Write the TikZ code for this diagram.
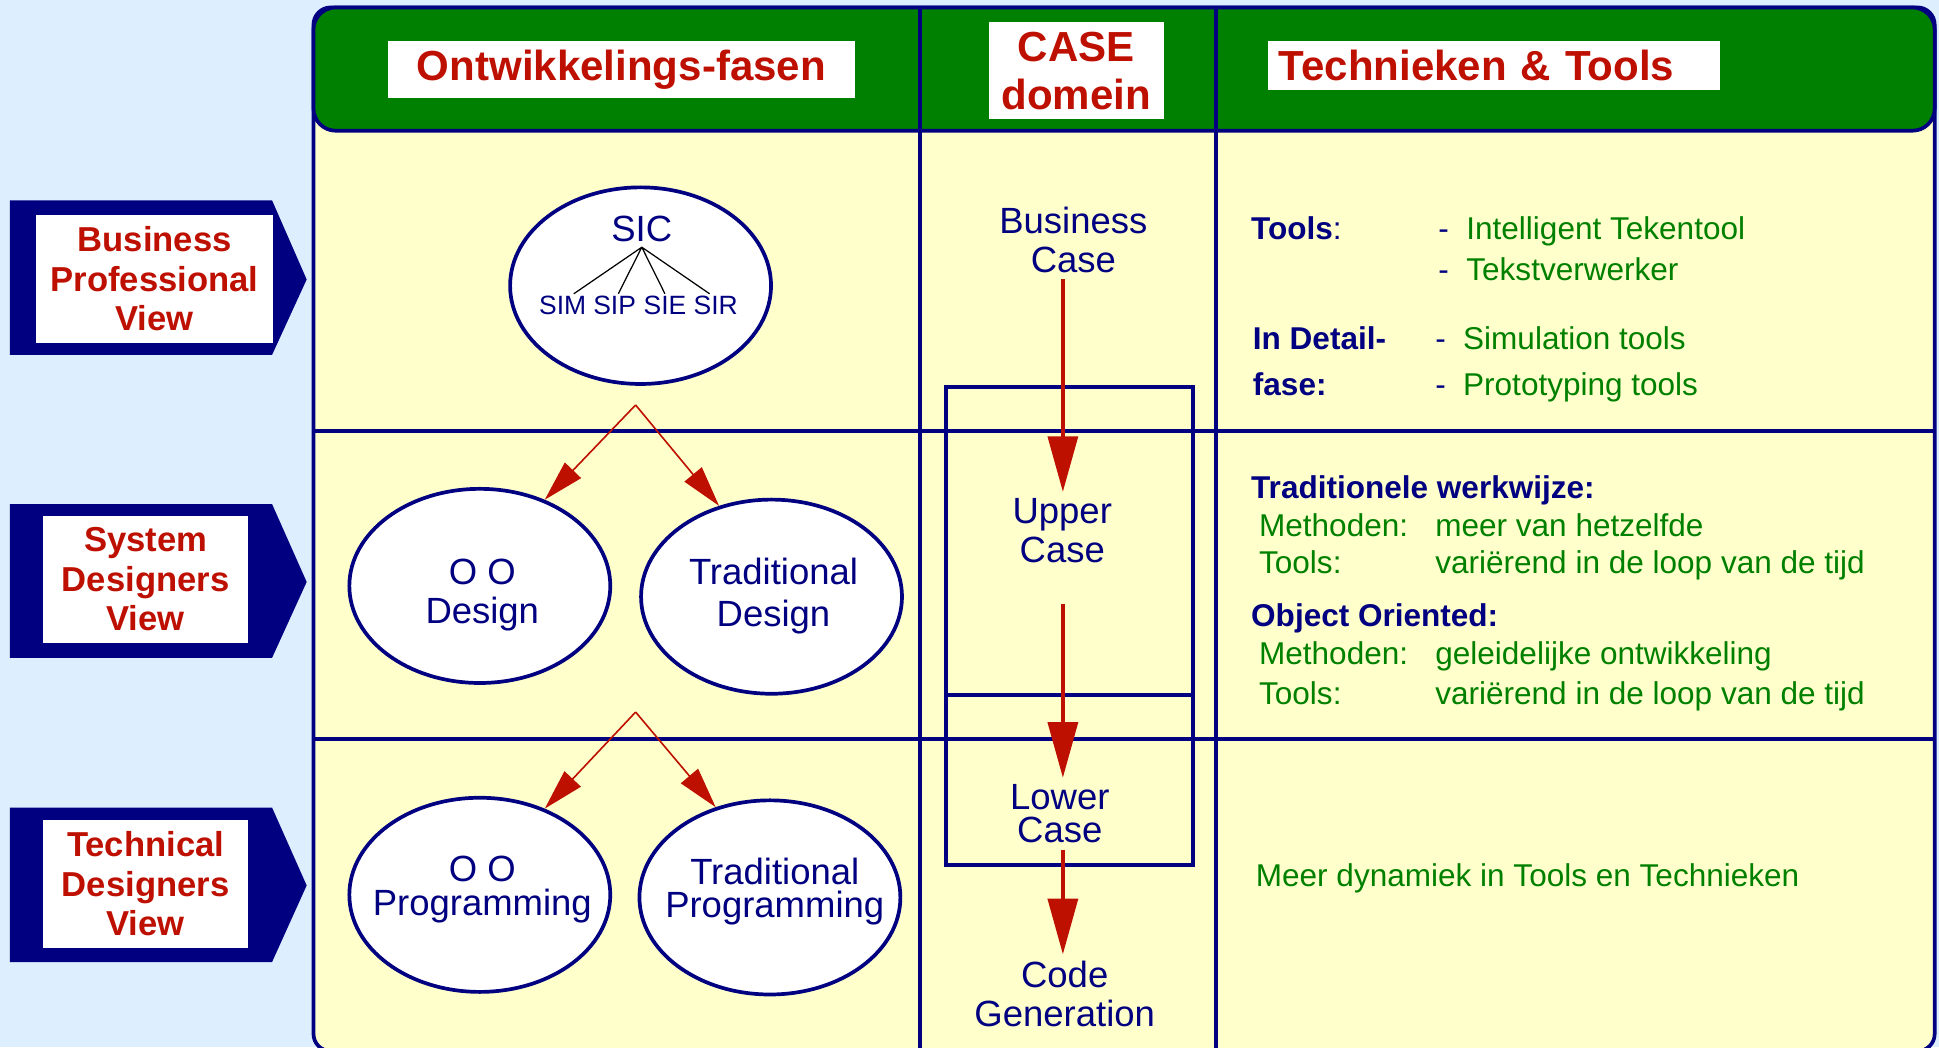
\documentclass[tikz,border=0pt]{standalone}
\usepackage{fontspec}
\setmainfont{Liberation Sans}
\usetikzlibrary{shapes.geometric,arrows.meta}
\definecolor{navy}{RGB}{0,0,128}
\definecolor{hdrgreen}{RGB}{0,128,0}
\definecolor{txtred}{RGB}{190,16,0}
\definecolor{paleyellow}{RGB}{255,255,204}
\definecolor{paleblue}{RGB}{221,238,255}
\newcommand{\fsz}[2]{\fontsize{#1}{#2}\selectfont}
\begin{document}
\begin{tikzpicture}[x=1pt,y=-1pt,
    hdr/.style={fill=white,inner sep=0pt,text=txtred,font=\fsz{34}{39}\bfseries,align=center},
    viewbox/.style={fill=white,inner sep=0pt,text=txtred,font=\fsz{28}{32}\bfseries,align=center},
    phasenode/.style={ellipse,draw=navy,line width=3pt,fill=white,inner sep=0pt,minimum width=211pt,minimum height=157pt},
    elltxt/.style={text=navy,align=center,inner sep=0pt},
    subsys/.style={text=navy,anchor=base,inner sep=2pt,font=\fsz{21.4}{24}},
    casetxt/.style={text=navy,align=center,inner sep=5pt},
    toollbl/.style={anchor=base west,inner sep=0pt,text=navy,font=\fsz{25.5}{30}\bfseries},
    tooltxt/.style={anchor=base west,inner sep=0pt,text=hdrgreen,font=\fsz{25.5}{30}},
    flowarrow/.style={draw=txtred,line width=3.5pt,-{Triangle[length=45pt,width=24pt]}},
    forkarrow/.style={draw=txtred,line width=1.3pt,-{Triangle[length=33pt,width=18pt]}}]
  % background and frame
  \fill[paleblue] (0,0) rectangle (1568,847);
  \useasboundingbox (0,0) rectangle (1568,847);
  \filldraw[fill=paleyellow,draw=navy,line width=3pt,rounded corners=14pt] (253.5,6) rectangle (1564.5,850);
  \filldraw[fill=hdrgreen,draw=navy,line width=3pt,rounded corners=18pt] (253.5,6) rectangle (1564.5,105.7);
  \draw[navy,line width=3pt] (744,6) -- (744,850) (983.5,6) -- (983.5,850)
    (253.5,348.3) -- (1564.5,348.3) (253.5,597.7) -- (1564.5,597.7);
  \node[hdr,minimum width=377pt,minimum height=46pt] (ontw) at (502.5,56) {Ontwikkelings-fasen};
  \node[hdr,minimum width=141.6pt,minimum height=78.5pt] (casehdr) at (870.2,57.3) {CASE\\domein};
  \node[hdr,text width=347.5pt,align=left,inner xsep=9pt,minimum height=39.8pt] (techhdr) at (1207.75,52.9) {Technieken \& Tools};

  % views
  \fill[navy] (8,162) -- (220,162) -- (248,226) -- (220,287) -- (8,287) -- cycle;
  \node[viewbox,minimum width=192pt,minimum height=103pt] (bpv) at (125,225.5) {Business\\Professional\\View};
  \fill[navy] (8,407.6) -- (220,407.6) -- (248,470.6) -- (220,532) -- (8,532) -- cycle;
  \node[viewbox,minimum width=165.5pt,minimum height=103pt] (sdv) at (117.75,468.5) {System\\Designers\\View};
  \fill[navy] (8,653) -- (220,653) -- (248,716) -- (220,778) -- (8,778) -- cycle;
  \node[viewbox,minimum width=165.5pt,minimum height=103.6pt] (tdv) at (117.75,714.8) {Technical\\Designers\\View};

  % phases
  \node[phasenode,minimum height=159pt] (sicell) at (518,231) {};
  \node[text=navy,font=\fsz{29.5}{32},inner sep=4pt,anchor=base] (sic) at (519,195.4) {SIC};
  \node[subsys] (sim) at (455,254.7) {SIM};
  \node[subsys] (sip) at (497,254.7) {SIP};
  \node[subsys] (sie) at (537.7,254.7) {SIE};
  \node[subsys] (sir) at (578.8,254.7) {SIR};
  \draw[black,line width=1pt] (sic.south) -- ([xshift=9pt]sim.north)
    (sic.south) -- ([xshift=3pt]sip.north)
    (sic.south) -- (sie.north)
    (sic.south) -- ([xshift=-5pt]sir.north);
  \node[phasenode] (oodes) at (388,473.8) {};
  \node[elltxt,font=\fsz{29.5}{31.6}] (oodesT) at (390,481.2) {O O\\Design};
  \node[phasenode] (trdes) at (623.9,482.5) {};
  \node[elltxt,font=\fsz{29.5}{34}] (trdesT) at (625.5,482.3) {Traditional\\Design};
  \node[phasenode] (ooprog) at (388,723.6) {};
  \node[elltxt,font=\fsz{29.5}{27.7}] (ooprogT) at (390,719.2) {O O\\Programming};
  \node[phasenode] (trprog) at (622.6,725.7) {};
  \node[elltxt,font=\fsz{29.5}{27.4}] (trprogT) at (626.5,721) {Traditional\\Programming};
  \coordinate (fork1) at (514,327.5);
  \draw[forkarrow] (fork1) -- (oodes.53);
  \draw[forkarrow] (fork1) -- (trdes.120);
  \coordinate (fork2) at (514,575.8);
  \draw[forkarrow] (fork2) -- (ooprog.53);
  \draw[forkarrow] (fork2) -- (trprog.121);

  % CASE domein
  \coordinate (axis) at (859.5,0);
  \draw[navy,line width=3pt] (765,313) rectangle (964.5,562) (765,562) rectangle (964.5,699.5);
  \node[casetxt,font=\fsz{29.5}{31.8}] (bcase) at (868,193.9) {Business\\Case};
  \node[casetxt,font=\fsz{29.5}{31.4}] (ucase) at (859,429) {Upper\\Case};
  \node[casetxt,font=\fsz{29.5}{27}] (lcase) at (857,658) {Lower\\Case};
  \node[casetxt,font=\fsz{29.5}{31.4}] (cgen) at (861,803.5) {Code\\Generation};
  \draw[flowarrow] (bcase.south -| axis) -- (ucase.north -| axis);
  \draw[flowarrow,shorten <=28pt] (ucase.south -| axis) -- (lcase.north -| axis);
  \draw[flowarrow] (lcase.south -| axis) -- (cgen.north -| axis);

  % technieken & tools
  \node[toollbl] (tools1) at (1011.6,193.5) {Tools\textmd{:}};
  \node[tooltxt,text=navy] (dash1) at (1163,193.5) {-};
  \node[tooltxt] (teken) at (1185.6,193.5) {Intelligent Tekentool};
  \node[tooltxt,text=navy] (dash2) at (1163,227) {-};
  \node[tooltxt] (tekst) at (1185.6,227) {Tekstverwerker};
  \node[toollbl] (detail1) at (1013,282.5) {In Detail-};
  \node[toollbl] (detail2) at (1013,320) {fase:};
  \node[tooltxt,text=navy] (dash3) at (1160.6,282.5) {-};
  \node[tooltxt] (simul) at (1183,282.5) {Simulation tools};
  \node[tooltxt,text=navy] (dash4) at (1160.6,320) {-};
  \node[tooltxt] (proto) at (1183,320) {Prototyping tools};
  \node[toollbl] (trad) at (1011.6,403) {Traditionele werkwijze:};
  \node[tooltxt] (meth1) at (1018,433.5) {Methoden:};
  \node[tooltxt] (meth1T) at (1160.5,433.5) {meer van hetzelfde};
  \node[tooltxt] (tools2) at (1018,464) {Tools:};
  \node[tooltxt] (tools2T) at (1160.5,464) {variërend in de loop van de tijd};
  \node[toollbl] (objor) at (1011.6,507) {Object Oriented:};
  \node[tooltxt] (meth2) at (1018,537.6) {Methoden:};
  \node[tooltxt] (meth2T) at (1160.5,537.6) {geleidelijke ontwikkeling};
  \node[tooltxt] (tools3) at (1018,569.3) {Tools:};
  \node[tooltxt] (tools3T) at (1160.5,569.3) {variërend in de loop van de tijd};
  \node[tooltxt] (dyn) at (1015.4,716.5) {Meer dynamiek in Tools en Technieken};
\end{tikzpicture}
\end{document}
